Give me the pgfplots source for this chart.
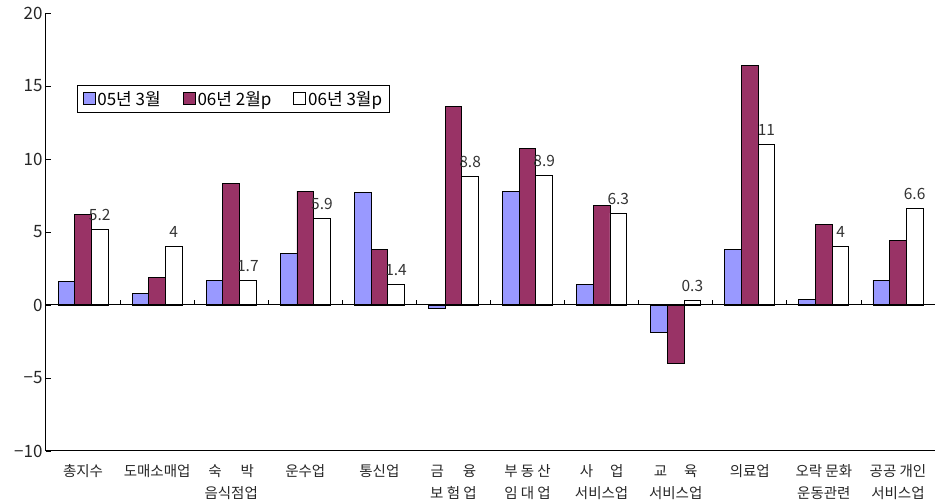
\documentclass[border=0pt]{standalone}
\usepackage{fontspec}
\setmainfont{Noto Sans CJK KR}
\usepackage{pgfplots}
\pgfplotsset{compat=1.18}
\definecolor{cA}{HTML}{9999FF}
\definecolor{cB}{HTML}{993366}
\begin{document}
\begin{tikzpicture}
\useasboundingbox (-46pt,-51pt) rectangle (896pt,451pt);
\begin{axis}[
  at={(0pt,0pt)}, anchor=south west,
  scale only axis, width=889pt, height=438pt,
  xmin=-0.5, xmax=11.5, ymin=-10, ymax=20,
  axis lines*=left,
  axis line style={-, black, line width=1pt},
  ytick={-10,-5,0,5,10,15,20},
  yticklabels={−10,−5,0,5,10,15,20},
  tick align=inside,
  major tick length=5pt,
  y tick style={black, line width=0.8pt},
  xtick={0,...,11},
  x tick style={draw=none},
  xticklabels={{총지수},{도매소매업},{숙\hspace{19pt}박\\음식점업},{운수업},{통신업},{금\hspace{19pt}융\\보 험 업},{부 동 산\\임 대 업},{사\hspace{17pt}업\\서비스업},{교\hspace{17pt}육\\서비스업},{의료업},{오락 문화\\운동관련},{공공 개인\\서비스업}},
  xticklabel style={align=center, font=\fontsize{14.5}{22}\selectfont, text=black!85, yshift=-5pt},
  yticklabel style={font=\fontsize{17}{18}\selectfont, text=black!85},
  /pgf/number format/assume math mode=true,
  ybar, bar width=0.225,
  every axis plot/.append style={draw=black, line width=0.8pt},
  legend style={at={(0.035,0.836)}, anchor=north west, draw=black, line width=0.8pt,
    font=\fontsize{17}{19}\selectfont, inner xsep=5pt, inner ysep=4pt},
  legend columns=3,
  legend image code/.code={\draw[#1, line width=0.8pt] (0pt,-5pt) rectangle (12pt,7pt);},
  nodes near coords style={font=\fontsize{15.5}{18}\selectfont, text=black!80, yshift=5pt},
]
\addplot[fill=cA, bar shift=-0.225] coordinates {
(0,1.6) (1,0.8) (2,1.7) (3,3.5) (4,7.7) (5,-0.2) (6,7.8) (7,1.4) (8,-1.9) (9,3.8) (10,0.4) (11,1.7)};
\addplot[fill=cB, bar shift=0] coordinates {
(0,6.2) (1,1.9) (2,8.3) (3,7.8) (4,3.8) (5,13.6) (6,10.7) (7,6.8) (8,-4.0) (9,16.4) (10,5.5) (11,4.4)};
\addplot[fill=white, bar shift=0.225, nodes near coords] coordinates {
(0,5.2) (1,4) (2,1.7) (3,5.9) (4,1.4) (5,8.8) (6,8.9) (7,6.3) (8,0.3) (9,11) (10,4) (11,6.6)};
\legend{05년 3월\rule{20pt}{0pt}, 06년 2월p\rule{20pt}{0pt}, 06년 3월p}
\draw[black, line width=1pt] (axis cs:-0.5,0) -- (axis cs:11.5,0);
\pgfplotsinvokeforeach{0.5,1.5,2.5,3.5,4.5,5.5,6.5,7.5,8.5,9.5,10.5}{
  \draw[black, line width=0.8pt] (axis cs:#1,0) -- ++(0pt,5pt);
}
\end{axis}
\end{tikzpicture}
\end{document}
